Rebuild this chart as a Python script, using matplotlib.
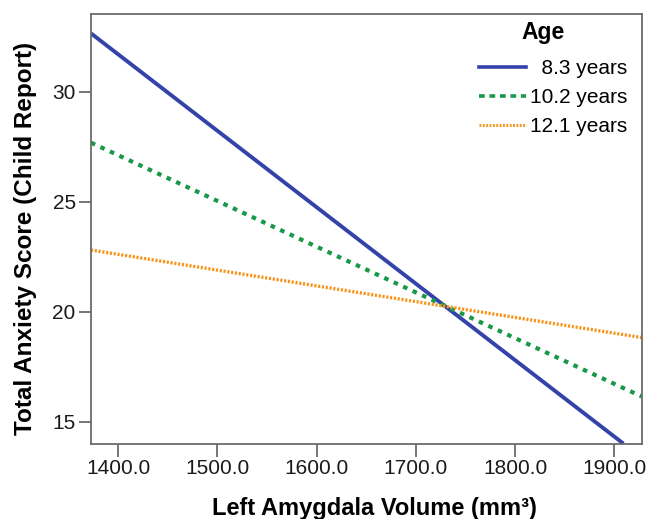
import matplotlib
matplotlib.use('Agg')
import matplotlib.pyplot as plt
from matplotlib.lines import Line2D

# fitted lines (endpoints of each simple slope)
ages = ['  8.3 years', '10.2 years', '12.1 years']
x_blue = [1372.5, 1909.0]
y_blue = [32.65, 14.0]
x_green = [1372.5, 1927.5]
y_green = [27.68, 16.14]
x_orange = [1372.5, 1927.5]
y_orange = [22.80, 18.82]

xticks = [1400, 1500, 1600, 1700, 1800, 1900]
yticks = [15, 20, 25, 30]

BLUE = '#3343aa'
GREEN = '#18994a'
ORANGE = '#f7941d'

plt.rcParams['font.family'] = ['Liberation Sans', 'DejaVu Sans']

fig = plt.figure(figsize=(6.48, 5.19), dpi=100)
ax = fig.add_axes([0.1404, 0.1445, 0.8499, 0.8285])

ax.plot(x_blue, y_blue, color=BLUE, lw=2.8, solid_capstyle='butt')
ax.plot(x_green, y_green, color=GREEN, lw=3.0, dashes=(1.1, 1.4))
ax.plot(x_orange, y_orange, color=ORANGE, lw=2.4, dashes=(0.65, 0.5))

ax.set_xlim(1372.5, 1927.5)
ax.set_ylim(13.98, 33.53)
ax.set_xticks(xticks)
ax.set_xticklabels([f'{v:.1f}' for v in xticks])
ax.set_yticks(yticks)

for s in ax.spines.values():
    s.set_color('#6b6b6b')
    s.set_linewidth(1.3)
ax.tick_params(axis='both', colors='#6b6b6b', labelcolor='#1a1a1a',
               labelsize=15, length=9, width=1.3, pad=2)

ax.set_xlabel('Left Amygdala Volume (mm³)', fontsize=17, fontweight='bold')
ax.xaxis.label.set_va('baseline')
ax.xaxis.set_label_coords(0.514, -0.165)
ax.set_ylabel('Total Anxiety Score (Child Report)', fontsize=17.5,
              fontweight='bold', ha='center', va='center')
ax.yaxis.set_label_coords(-0.118, 0.477)

# legend handles drawn a bit differently from the plotted lines
handles = [
    Line2D([], [], color=BLUE, lw=2.6),
    Line2D([], [], color=GREEN, lw=2.6, dashes=(1.6, 1.3)),
    Line2D([], [], color=ORANGE, lw=2.2, dashes=(0.6, 0.5)),
]
ax.legend(handles, ages, loc='upper right', bbox_to_anchor=(0.99, 0.914),
          frameon=False, fontsize=15, handlelength=2.26, handletextpad=0.2,
          labelspacing=0.48, borderaxespad=0)
ax.text(0.821, 0.956, 'Age', transform=ax.transAxes, fontsize=16.5,
        fontweight='bold', ha='center', va='center')

plt.savefig('out.png', dpi=100)
plt.close()
